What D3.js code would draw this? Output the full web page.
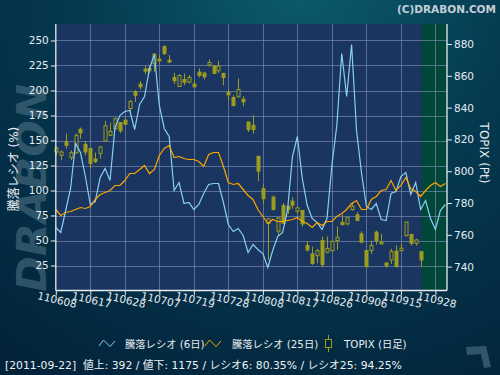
<!DOCTYPE html>
<html>
<head>
<meta charset="utf-8">
<script src="https://cdn.jsdelivr.net/npm/d3@7"></script>
<style>
html,body{margin:0;padding:0;background:#03243a;}
svg{display:block;}
</style>
</head>
<body>
<svg id="chart" width="500" height="375"></svg>
<script>
// trading days shown on the chart
var dates = ['110608','110609','110610','110613','110614','110615','110616','110617','110620','110621','110622','110623','110624','110627','110628','110629','110630',
  '110701','110704','110705','110706','110707','110708','110711','110712','110713','110714','110715','110719','110720','110721','110722','110725','110726','110727','110728','110729',
  '110801','110802','110803','110804','110805','110808','110809','110810','110811','110812','110815','110816','110817','110818','110819','110822','110823','110824','110825','110826','110829','110830','110831',
  '110901','110902','110905','110906','110907','110908','110909','110912','110913','110914','110915','110916','110920','110921','110922','110926','110927','110928','110929','110930'];

// 騰落レシオ (6日)
var ratio6 = [63,58,80,102,147,138,114,86,89,113,122,110,163,175,179,180,161,186,194,222,
  236,185,162,154,100,108,87,88,81,86,97,106,107,107,88,66,59,62,55,38,
  46,41,37,23,40,54,58,80,134,154,112,85,72,68,61,72,125,165,237,194,
  246,160,118,84,81,87,71,70,97,99,114,118,96,108,81,90,72,61,80,86];

// 騰落レシオ (25日)
var ratio25 = [81,75,78,79,81,83,82,84,91,96,98,100,105,105,110,117,117,121,125,117,
  121,135,142,145,133,134,132,131,131,129,124,136,138,138,124,108,106,107,101,95,
  91,81,74,67,71,69,69,70,71,73,69,67,63,68,65,69,69,74,77,81,
  87,90,81,81,91,94,100,101,110,100,105,113,102,99,94,100,105,108,104,107];

// TOPIX daily candles (up to 110922)
var topixOpen = [812.1,810.0,818.4,808.5,811.5,826.4,816.9,814.2,807.7,811.1,819.0,822.6,826.8,830.6,832.1,839.4,849.9,854.8,864.2,864.7,
  867.8,870.5,878.3,869.9,859.0,853.3,857.7,856.0,854.8,862.3,861.7,866.8,866.1,863.2,861.5,849.7,846.4,846.8,845.3,831.0,
  828.9,809.4,789.0,767.1,783.7,762.3,778.5,777.9,781.2,774.9,775.3,753.3,748.0,746.9,756.4,749.1,750.1,756.4,767.9,766.9,
  775.8,772.6,760.6,750.1,750.1,761.7,755.4,742.3,744.2,749.7,750.1,759.6,760.2,754.7,749.5];
var topixHigh = [815.7,813.2,823.7,813.2,823.7,827.5,819.0,814.6,811.7,815.7,831.7,830.6,833.8,831.0,834.2,844.7,851.0,856.7,866.1,866.8,
  874.1,873.1,879.4,873.1,861.9,861.1,861.5,860.5,857.3,864.7,862.6,870.3,866.8,869.5,861.9,851.4,847.8,858.4,847.2,831.0,
  835.2,809.4,791.7,770.1,784.8,771.1,780.0,778.5,783.7,777.9,775.7,756.0,752.6,751.2,758.9,758.9,756.4,765.2,772.8,771.1,
  780.6,774.3,762.3,750.1,756.4,762.7,760.6,742.8,751.2,753.3,754.3,768.4,760.6,757.5,749.7];
var topixLow = [810.0,806.9,814.2,806.9,811.1,820.5,810.0,801.6,805.2,807.9,818.4,822.0,825.8,824.1,828.9,837.3,843.6,851.4,861.1,861.5,
  862.6,867.8,873.1,867.8,854.8,853.1,854.1,855.2,852.5,859.0,857.7,865.7,861.1,861.9,854.1,844.7,840.9,846.4,840.9,824.7,
  823.7,793.8,779.5,744.2,775.3,759.6,766.9,773.2,776.4,773.2,765.2,749.5,741.1,742.1,739.6,748.4,749.5,750.5,765.9,765.9,
  775.3,769.0,754.7,739.6,748.0,753.9,754.3,739.2,741.7,739.6,749.7,758.9,753.3,753.3,740.0];
var topixClose = [814.6,812.1,816.3,811.7,822.6,824.1,812.1,804.8,806.0,815.3,828.7,825.1,833.1,825.4,829.6,843.9,847.8,853.1,863.0,863.2,
  873.7,869.5,874.1,868.7,856.9,860.2,856.0,859.0,853.1,860.2,859.4,868.4,861.5,866.1,859.0,848.1,841.3,851.4,843.6,826.2,
  826.2,800.1,782.7,770.1,776.0,770.7,767.3,776.0,778.7,777.0,766.9,750.5,742.1,750.1,741.3,751.4,756.0,758.5,766.5,770.7,
  777.9,769.0,755.4,740.0,753.3,756.4,754.3,740.6,749.7,740.0,751.6,768.0,754.7,756.8,744.2];

var xTickLabels = ['110608','110617','110628','110707','110719','110728','110808','110817','110826','110906','110915','110928'];
var leftTicks = [25,50,75,100,125,150,175,200,225,250];
var rightTicks = [740,760,780,800,820,840,860,880];
var lastDate = '110922';
var statusText = '[2011-09-22]  値上: 392 / 値下: 1175 / レシオ6: 80.35% / レシオ25: 94.25%';
var legendNames = ['騰落レシオ (6日)', '騰落レシオ (25日)', 'TOPIX (日足)'];

var W = 500, H = 375;
var plotL = 55.8, plotR = 447, plotT = 24, plotB = 290.5;
var svg = d3.select('#chart');
var defs = svg.append('defs');

var bg = defs.append('radialGradient').attr('id', 'bg')
  .attr('gradientUnits', 'userSpaceOnUse')
  .attr('cx', 300).attr('cy', -20).attr('r', 480);
bg.append('stop').attr('offset', '0%').attr('stop-color', '#0b5c6d');
bg.append('stop').attr('offset', '45%').attr('stop-color', '#053a50');
bg.append('stop').attr('offset', '100%').attr('stop-color', '#02223a');

svg.append('rect').attr('width', W).attr('height', H).attr('fill', 'url(#bg)');

// watermark
svg.append('text')
  .attr('transform', 'translate(46,188) rotate(-90)')
  .attr('text-anchor', 'middle')
  .attr('font-family', 'DejaVu Sans')
  .attr('font-weight', 'bold').attr('font-style', 'italic')
  .attr('font-size', 40)
  .attr('textLength', 208).attr('lengthAdjust', 'spacingAndGlyphs')
  .attr('fill', '#4d7084').attr('fill-opacity', 0.6)
  .text('DRABON');

svg.append('path')
  .attr('d', 'M466,347 L486,346 L491,367 L484,368 L481,354 L467,355 Z')
  .attr('fill', '#3d6075').attr('fill-opacity', 0.8);

svg.append('text')
  .attr('x', 496).attr('y', 13)
  .attr('text-anchor', 'end')
  .attr('font-family', 'DejaVu Sans').attr('font-weight', 'bold').attr('font-size', 10.5)
  .attr('fill', '#c5d0d8')
  .text('(C)DRABON.COM');

var x = d3.scaleLinear().domain([0, 79.35]).range([plotL, plotR]);
var yL = d3.scaleLinear().domain([0, 266.5]).range([plotB, plotT]);
var yR = d3.scaleLinear().domain([725, 892.6]).range([plotB, plotT]);

svg.append('rect')
  .attr('x', plotL).attr('y', plotT).attr('width', plotR - plotL).attr('height', plotB - plotT)
  .attr('fill', '#193560');

var gx = x(dates.indexOf(lastDate)) + 0.6;
svg.append('rect')
  .attr('x', gx).attr('y', plotT).attr('width', plotR - gx).attr('height', plotB - plotT)
  .attr('fill', '#00473a');

var tickIdx = xTickLabels.map(function(l){ return dates.indexOf(l); });

var grid = svg.append('g').attr('stroke', '#8595bb').attr('stroke-opacity', 0.6).attr('stroke-width', 1);
grid.selectAll('line.h').data(leftTicks).enter().append('line')
  .attr('x1', plotL).attr('x2', plotR)
  .attr('y1', function(d){ return Math.round(yL(d)) + 0.5; })
  .attr('y2', function(d){ return Math.round(yL(d)) + 0.5; });
grid.selectAll('line.v').data(tickIdx.slice(1)).enter().append('line')
  .attr('y1', plotT).attr('y2', plotB)
  .attr('x1', function(d){ return Math.round(x(d)) + 0.5; })
  .attr('x2', function(d){ return Math.round(x(d)) + 0.5; });

// candles
var olive = '#9c9c1e';
var candles = svg.append('g');
topixOpen.forEach(function(o, i){
  var c = topixClose[i], cx = Math.round(x(i)) + 0.5;
  var up = c >= o;
  candles.append('line')
    .attr('x1', cx).attr('x2', cx)
    .attr('y1', yR(topixHigh[i])).attr('y2', yR(topixLow[i]))
    .attr('stroke', olive).attr('stroke-width', 1);
  var y0 = yR(Math.max(o, c)), y1 = yR(Math.min(o, c));
  candles.append('rect')
    .attr('x', cx - 1.5).attr('width', 3)
    .attr('y', y0).attr('height', Math.max(1, y1 - y0))
    .attr('fill', up ? '#193560' : olive)
    .attr('stroke', olive).attr('stroke-width', 1);
});

var lineGen = d3.line().x(function(d, i){ return x(i); }).y(function(d){ return yL(d); });
svg.append('path').datum(ratio6).attr('d', lineGen)
  .attr('fill', 'none').attr('stroke', '#88d0f0').attr('stroke-width', 1.2);
svg.append('path').datum(ratio25).attr('d', lineGen)
  .attr('fill', 'none').attr('stroke', '#ffa500').attr('stroke-width', 1.2);

// axes
var axisColor = '#e6ecf0';
var font = 'DejaVu Sans';

var axL = svg.append('g').attr('transform', 'translate(' + plotL + ',0)')
  .call(d3.axisLeft(yL).tickValues(leftTicks).tickSize(5).tickSizeOuter(0).tickPadding(2));
var axR = svg.append('g').attr('transform', 'translate(' + plotR + ',0)')
  .call(d3.axisRight(yR).tickValues(rightTicks).tickSize(5).tickSizeOuter(0).tickPadding(2));
var axB = svg.append('g').attr('transform', 'translate(0,' + plotB + ')')
  .call(d3.axisBottom(x).tickValues(tickIdx).tickSize(5).tickSizeOuter(0)
    .tickFormat(function(d){ return dates[d]; }));

[axL, axR, axB].forEach(function(a){
  a.select('.domain').attr('stroke', axisColor).attr('stroke-width', 1.3);
  a.selectAll('.tick line').attr('stroke', axisColor);
  a.selectAll('text').attr('fill', axisColor).attr('font-family', font).attr('font-size', 10.5);
});
axB.select('.domain').attr('d', 'M' + plotL + ',0H' + plotR);
axL.select('.domain').attr('d', 'M0,' + plotT + 'V' + plotB);
axR.select('.domain').attr('d', 'M0,' + plotT + 'V' + plotB);
axB.selectAll('.tick text')
  .attr('y', 0).attr('dy', 0)
  .attr('transform', 'translate(0,13) rotate(13)');

svg.append('text')
  .attr('transform', 'translate(18,169) rotate(-90)')
  .attr('text-anchor', 'middle')
  .attr('font-family', 'DejaVu Sans, Noto Sans CJK JP').attr('font-size', 12)
  .attr('fill', axisColor)
  .text('騰落レシオ (%)');
svg.append('text')
  .attr('transform', 'translate(480,153) rotate(90)')
  .attr('text-anchor', 'middle')
  .attr('font-family', font).attr('font-size', 12)
  .attr('fill', axisColor)
  .text('TOPIX (Pt)');

// legend
var lg = svg.append('g').attr('font-family', 'DejaVu Sans, Noto Sans CJK JP').attr('font-size', 10.3).attr('fill', '#e6ecf0');
var zig = function(x0){ return 'M' + x0 + ',346 L' + (x0 + 4.5) + ',340 L' + (x0 + 11) + ',346.5 L' + (x0 + 16) + ',341'; };
lg.append('path').attr('d', zig(99)).attr('fill', 'none').attr('stroke', '#88d0f0').attr('stroke-width', 1);
lg.append('text').attr('x', 125).attr('y', 348).text(legendNames[0]);
lg.append('path').attr('d', zig(205)).attr('fill', 'none').attr('stroke', '#ffa500').attr('stroke-width', 1);
lg.append('text').attr('x', 232).attr('y', 348).text(legendNames[1]);
lg.append('line').attr('x1', 328.5).attr('x2', 328.5).attr('y1', 335).attr('y2', 352).attr('stroke', olive);
lg.append('rect').attr('x', 325.5).attr('y', 339.5).attr('width', 6).attr('height', 8)
  .attr('fill', '#03273d').attr('stroke', olive);
lg.append('text').attr('x', 344).attr('y', 348).text(legendNames[2]);

svg.append('text')
  .attr('x', 5).attr('y', 369)
  .attr('font-family', 'DejaVu Sans, Noto Sans CJK JP').attr('font-size', 10.8)
  .attr('fill', '#eef2f4')
  .attr('xml:space', 'preserve')
  .text(statusText);
</script>
</body>
</html>
